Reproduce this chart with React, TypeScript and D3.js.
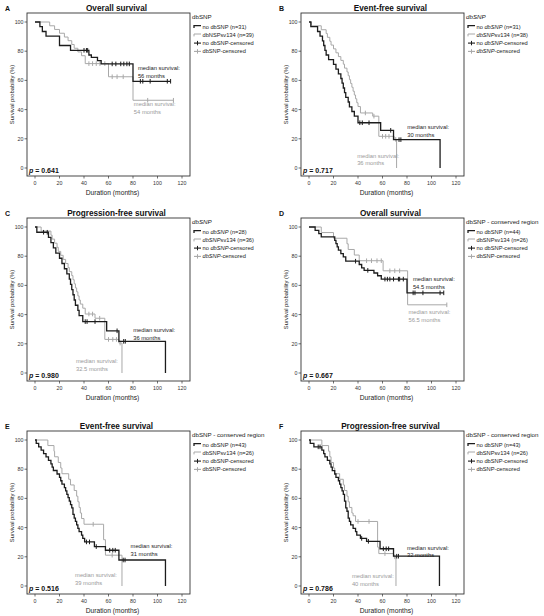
import React from "react";
import * as d3 from "d3";

// ---------- data ----------
const X_TICKS = [0, 20, 40, 60, 80, 100, 120];
const Y_TICKS = [0, 20, 40, 60, 80, 100];

// Panel A – Overall survival (dbSNP)
const A_NO_T = [4, 6, 9, 20, 29, 44, 46, 51, 54, 80];
const A_NO_S = [96.8, 93.5, 90.3, 83.9, 80.6, 77.4, 75.8, 73.5, 71.3, 59.4];
const A_NO_C = [40, 42, 43, 63, 66, 70, 72.5, 75, 77, 86, 88, 94, 108, 110.7];
const A_SV_T = [12, 16, 20, 24, 27, 30, 32, 35, 38, 41, 60, 80];
const A_SV_S = [97.4, 94.9, 92.3, 89.7, 87.2, 84.6, 82.0, 79.5, 76.9, 71.5, 62.5, 46.4];
const A_SV_C = [44, 47, 50, 53, 57, 63, 67, 72, 92, 113];

// Panel B – Event-free survival (dbSNP)
const B_NO_T = [1.5, 7, 9, 11, 12, 13, 14, 16, 20, 22, 24, 26, 27, 28, 29, 30, 32, 33, 35, 37, 40, 58.5, 69, 107];
const B_NO_S = [96.8, 93.5, 90.3, 87.1, 83.9, 80.6, 77.4, 74.2, 71.0, 67.7, 64.5, 61.3, 58.1, 54.8, 51.6, 48.4, 45.2, 41.9, 38.7, 35.5, 31.0, 25.8, 19.4, 0];
const B_NO_C = [41.5, 43.5, 49, 66.7, 73.5, 75];
const B_SV_T = [2, 10, 14, 15, 17, 18, 20, 22, 24, 26, 28, 29, 31, 32, 33, 34, 35, 36, 37, 38, 39, 40, 42, 52, 57, 69.5, 71.5];
const B_SV_S = [97.4, 94.7, 92.1, 89.5, 86.8, 84.2, 81.6, 78.9, 76.3, 73.7, 71.1, 68.4, 65.8, 63.2, 60.5, 57.9, 55.3, 52.6, 50.0, 47.4, 44.7, 42.1, 37.7, 35.5, 21.7, 19.6, 0];
const B_SV_C = [46, 53, 60, 62.6, 65.3, 70.8];

// Panel C – Progression-free survival (dbSNP)
const C_NO_T = [1.5, 11, 13, 15, 17, 20, 22, 24, 26, 28, 29, 30, 31, 32, 33, 35, 36, 39, 58.5, 68.5, 106.5];
const C_NO_S = [96.4, 92.9, 89.3, 85.7, 82.1, 78.6, 75.0, 71.4, 67.9, 64.3, 60.7, 57.1, 53.6, 50.0, 46.4, 42.9, 39.3, 35.2, 28.9, 21.7, 0];
const C_NO_C = [7, 10, 41, 42.5, 49, 67, 72.4, 73.7];
const C_SV_T = [5, 13, 14, 16, 18, 19, 21, 23, 25, 27, 28, 30, 31, 32, 33, 34, 35, 36, 37, 39, 41, 49, 57, 68.5, 71];
const C_SV_S = [97.2, 94.4, 91.7, 88.9, 86.1, 83.3, 80.6, 77.8, 75.0, 72.2, 69.4, 66.7, 63.9, 61.1, 58.3, 55.6, 52.8, 50.0, 47.2, 44.4, 40.4, 37.5, 23.0, 20.5, 0];
const C_SV_C = [44, 47, 52.8, 60, 63.5, 66.5, 69.5];

// Panel D – Overall survival (conserved region)
const D_NO_T = [5, 8, 10, 21, 22, 23, 24, 26, 28, 30, 41, 43, 45, 53, 56, 59, 80];
const D_NO_S = [97.7, 95.5, 93.2, 90.9, 88.6, 86.4, 84.1, 81.8, 79.5, 76.6, 74.3, 72.0, 70.3, 68.5, 66.6, 64.3, 54.9];
const D_NO_C = [38, 48, 62, 64, 66, 69, 73, 74, 77, 85, 86.5, 93, 107, 110];
const D_SV_T = [10, 20, 31, 32, 37, 41, 60.5, 80.5];
const D_SV_S = [96.2, 92.3, 88.5, 84.6, 80.8, 76.9, 70.0, 46.7];
const D_SV_C = [47, 51, 55.5, 59, 66, 70, 74, 112.5];

// Panel E – Event-free survival (conserved region)
const E_NO_T = [1, 3, 5, 7, 9, 11, 13, 14, 15, 18, 20, 21, 22, 24, 25, 26, 27, 28, 29, 30, 31, 32, 33, 34, 35, 36, 38, 39, 40.5, 48.5, 57.5, 68.5, 106.5];
const E_NO_S = [97.7, 95.3, 93.0, 90.7, 88.4, 86.0, 83.7, 81.4, 79.1, 76.7, 74.4, 72.1, 69.8, 67.4, 65.1, 62.8, 60.5, 58.1, 55.8, 53.5, 49.0, 46.5, 44.2, 41.9, 39.5, 37.2, 34.9, 32.6, 30.2, 27.0, 24.5, 17.8, 0];
const E_NO_C = [42, 44.5, 50, 61, 63.5, 65.5, 72, 73.5];
const E_SV_T = [10.5, 15.5, 16, 19, 21, 22, 27.5, 29, 32, 34, 35, 36, 37, 38, 40, 56, 57.5, 71];
const E_SV_S = [96.2, 92.3, 88.5, 84.6, 80.8, 76.9, 73.1, 69.2, 65.4, 61.5, 57.7, 53.8, 50.0, 46.2, 42.3, 31.7, 21.1, 0];
const E_SV_C = [47.5, 63];

// Panel F – Progression-free survival (conserved region)
const F_NO_T = [1, 4, 10.5, 12, 13, 15, 17, 18, 19, 21, 22, 24, 25, 26, 27, 28, 29, 30, 31, 32, 33, 34, 36, 38, 39, 42, 47, 58, 69, 106.5];
const F_NO_S = [97.7, 95.3, 93.0, 90.7, 88.4, 86.0, 83.7, 81.4, 79.0, 76.7, 74.4, 72.1, 69.8, 67.4, 65.1, 62.8, 58.1, 53.5, 51.2, 46.5, 44.2, 41.9, 39.5, 37.2, 34.9, 32.6, 30.6, 25.5, 20.4, 0];
const F_NO_C = [7.5, 9, 43, 48.5, 60.7, 63, 65, 71.6, 73];
const F_SV_T = [10.5, 16, 17, 18, 20, 21, 25, 28, 29, 31, 32, 33, 35, 36, 38, 56, 57, 69, 71];
const F_SV_S = [96.2, 92.3, 88.5, 84.6, 80.8, 76.9, 73.1, 69.2, 65.4, 61.5, 57.7, 53.8, 50.0, 48.1, 44.2, 26.6, 22.2, 20.0, 0];
const F_SV_C = [40, 49, 62, 70];

const LETTERS = ["A", "B", "C", "D", "E", "F"];
const TITLES = ["Overall survival", "Event-free survival", "Progression-free survival", "Overall survival", "Event-free survival", "Progression-free survival"];
const LEGEND_TITLES = ["dbSNP", "dbSNP", "dbSNP", "dbSNP - conserved region", "dbSNP - conserved region", "dbSNP - conserved region"];
const NO_LABELS = ["no dbSNP (n=31)", "no dbSNP (n=31)", "no dbSNP (n=28)", "no dbSNP (n=44)", "no dbSNP (n=43)", "no dbSNP (n=43)"];
const SV_LABELS = ["dbNSPsv134 (n=39)", "dbSNPsv134 (n=38)", "dbSNPsv134 (n=36)", "dbSNPsv134 (n=26)", "dbSNPsv134 (n=26)", "dbSNPsv134 (n=26)"];
const P_VALUES = ["0.641", "0.717", "0.980", "0.667", "0.516", "0.786"];
const NO_MEDIANS = ["56 months", "30 months", "36 months", "54.5 months", "31 months", "32 months"];
const SV_MEDIANS = ["54 months", "36 months", "32.5 months", "56.5 months", "39 months", "40 months"];

// ---------- layout / style ----------
const FONT = "'Liberation Sans', Arial, Helvetica, sans-serif";
const BLACK = "#1c1c1c";
const GRAY = "#a8a8a8";
const GRAY_TEXT = "#9a9a9a";
const BOXES = [
  [27, 13], [301, 13],
  [27, 218], [301, 218],
  [27, 431], [301, 431],
];
// annotation anchors in data units [month, percent]
const NO_ANN = [[84, 68.3], [80.2, 28.1], [80.2, 29.2], [84.8, 64.2], [78, 27.4], [80, 26.2]];
const SV_ANN = [[80.7, 43.8], [39.3, 8.4], [33.5, 8], [81.2, 41.8], [32.7, 7.5], [35, 6.8]];

type Series = { t: number[]; s: number[]; c: number[] };

const SERIES: [Series, Series][] = [
  [{ t: A_NO_T, s: A_NO_S, c: A_NO_C }, { t: A_SV_T, s: A_SV_S, c: A_SV_C }],
  [{ t: B_NO_T, s: B_NO_S, c: B_NO_C }, { t: B_SV_T, s: B_SV_S, c: B_SV_C }],
  [{ t: C_NO_T, s: C_NO_S, c: C_NO_C }, { t: C_SV_T, s: C_SV_S, c: C_SV_C }],
  [{ t: D_NO_T, s: D_NO_S, c: D_NO_C }, { t: D_SV_T, s: D_SV_S, c: D_SV_C }],
  [{ t: E_NO_T, s: E_NO_S, c: E_NO_C }, { t: E_SV_T, s: E_SV_S, c: E_SV_C }],
  [{ t: F_NO_T, s: F_NO_S, c: F_NO_C }, { t: F_SV_T, s: F_SV_S, c: F_SV_C }],
];

const BOX_W = 163;
const BOX_H = 163;

function curvePoints(se: Series): [number, number][] {
  const pts: [number, number][] = [[0, 100]];
  se.t.forEach((t, i) => pts.push([t, se.s[i]]));
  const lastT = se.t[se.t.length - 1];
  const lastS = se.s[se.s.length - 1];
  const end = Math.max(lastT, ...se.c);
  if (end > lastT) pts.push([end, lastS]);
  return pts;
}

function survAt(se: Series, t: number) {
  let v = 100;
  se.t.forEach((tt, i) => {
    if (tt <= t) v = se.s[i];
  });
  return v;
}

function Panel({ idx }: { idx: number }) {
  const [bx, by] = BOXES[idx];
  const x = d3.scaleLinear().domain([0, 120]).range([bx + 8, bx + 155]);
  const y = d3.scaleLinear().domain([0, 100]).range([by + 155, by + 9]);
  const line = d3
    .line<[number, number]>()
    .x((d) => x(d[0]))
    .y((d) => y(d[1]))
    .curve(d3.curveStepAfter);
  const [no, sv] = SERIES[idx];
  const lx = bx + BOX_W + 2;
  const italic = idx === 1 || idx === 2;

  const renderSeries = (se: Series, color: string, w: number, key: string) => (
    <g key={key}>
      <path d={line(curvePoints(se)) || ""} fill="none" stroke={color} strokeWidth={w} />
      {se.c.map((t, i) => {
        const yy = y(survAt(se, t));
        return <line key={i} x1={x(t)} x2={x(t)} y1={yy - 2.3} y2={yy + 2.3} stroke={color} strokeWidth={1} />;
      })}
    </g>
  );

  const legendItems = [
    { label: NO_LABELS[idx], color: BLACK, kind: "line" },
    { label: SV_LABELS[idx], color: GRAY, kind: "line" },
    { label: "no dbSNP-censored", color: BLACK, kind: "cens" },
    { label: "dbSNP-censored", color: GRAY, kind: "cens" },
  ];

  const ann = (pos: number[], lines: string[], color: string, key: string) => (
    <text key={key} x={x(pos[0])} y={y(pos[1]) + 2} fontSize={5.8} fill={color} fontFamily={FONT}>
      <tspan x={x(pos[0])}>{lines[0]}</tspan>
      <tspan x={x(pos[0])} dy={7.6}>{lines[1]}</tspan>
    </text>
  );

  const withItalic = (txt: string) => {
    if (!italic) return txt;
    const parts = txt.split("dbSNP");
    const out: any[] = [];
    parts.forEach((p, i) => {
      if (i > 0) out.push(<tspan key={"i" + i} fontStyle="italic">dbSNP</tspan>);
      if (p) out.push(<tspan key={"p" + i}>{p}</tspan>);
    });
    return out;
  };

  return (
    <g>
      {/* letter + title */}
      <text x={bx - 22} y={by - 2} fontSize={7} fontWeight="bold" fontFamily={FONT} fill="#111">
        {LETTERS[idx]}
      </text>
      <text x={bx + BOX_W / 2 + 8} y={by - 2.5} fontSize={8.2} fontWeight="bold" textAnchor="middle" fontFamily={FONT} fill="#111">
        {TITLES[idx]}
      </text>
      {/* box */}
      <rect x={bx} y={by} width={BOX_W} height={BOX_H} fill="#fff" stroke="#333" strokeWidth={0.9} />
      {/* y axis */}
      {Y_TICKS.map((v) => (
        <g key={"y" + v}>
          <line x1={bx - 2.5} x2={bx} y1={y(v)} y2={y(v)} stroke="#333" strokeWidth={0.7} />
          <text x={bx - 3.5} y={y(v) + 1.9} fontSize={5.3} textAnchor="end" fontFamily={FONT} fill="#333">
            {v}
          </text>
        </g>
      ))}
      {X_TICKS.map((v) => (
        <g key={"x" + v}>
          <line x1={x(v)} x2={x(v)} y1={by + BOX_H} y2={by + BOX_H + 2.5} stroke="#333" strokeWidth={0.7} />
          <text x={x(v)} y={by + BOX_H + 9} fontSize={5.3} textAnchor="middle" fontFamily={FONT} fill="#333">
            {v}
          </text>
        </g>
      ))}
      <text x={(x(0) + x(120)) / 2 + 4} y={by + BOX_H + 18.5} fontSize={6.7} textAnchor="middle" fontFamily={FONT} fill="#222">
        Duration (months)
      </text>
      <text
        transform={`translate(${bx - 13.5},${by + BOX_H / 2}) rotate(-90)`}
        fontSize={5.8}
        textAnchor="middle"
        fontFamily={FONT}
        fill="#222"
      >
        Survival probability (%)
      </text>
      {/* curves */}
      {renderSeries(sv, GRAY, 1, "sv")}
      {renderSeries(no, BLACK, 1.3, "no")}
      {/* annotations */}
      {ann(NO_ANN[idx], ["median survival:", NO_MEDIANS[idx]], "#222", "an")}
      {ann(SV_ANN[idx], ["median survival:", SV_MEDIANS[idx]], GRAY_TEXT, "as")}
      {/* p value */}
      <text x={bx + 2} y={by + BOX_H - 3} fontSize={7} fontWeight="bold" fontFamily={FONT} fill="#111">
        <tspan fontStyle="italic">p</tspan>
        <tspan> = {P_VALUES[idx]}</tspan>
      </text>
      {/* legend */}
      <text x={lx} y={by + 5.5} fontSize={6.2} fontFamily={FONT} fill="#222">
        {withItalic(LEGEND_TITLES[idx])}
      </text>
      {legendItems.map((it, i) => {
        const yy = by + 13.5 + i * 8.3;
        const x0 = lx + 2;
        return (
          <g key={"l" + i}>
            {it.kind === "line" ? (
              <path d={`M${x0},${yy + 1.6}V${yy - 0.8}H${x0 + 7}`} fill="none" stroke={it.color} strokeWidth={i === 0 ? 1.3 : 1} />
            ) : (
              <g>
                <line x1={x0} x2={x0 + 7} y1={yy} y2={yy} stroke={it.color} strokeWidth={1.1} />
                <line x1={x0 + 3.5} x2={x0 + 3.5} y1={yy - 2.2} y2={yy + 2.2} stroke={it.color} strokeWidth={1} />
              </g>
            )}
            <text x={x0 + 8.5} y={yy + 2} fontSize={5.7} fontFamily={FONT} fill="#222">
              {withItalic(it.label)}
            </text>
          </g>
        );
      })}
    </g>
  );
}

export default function App() {
  return (
    <svg
      width={544}
      height={616}
      viewBox="0 0 544 616"
      style={{ position: "absolute", left: 0, top: 0, display: "block", background: "#fff" }}
    >
      <rect width={544} height={616} fill="#fff" />
      {LETTERS.map((_, i) => (
        <Panel key={i} idx={i} />
      ))}
    </svg>
  );
}
